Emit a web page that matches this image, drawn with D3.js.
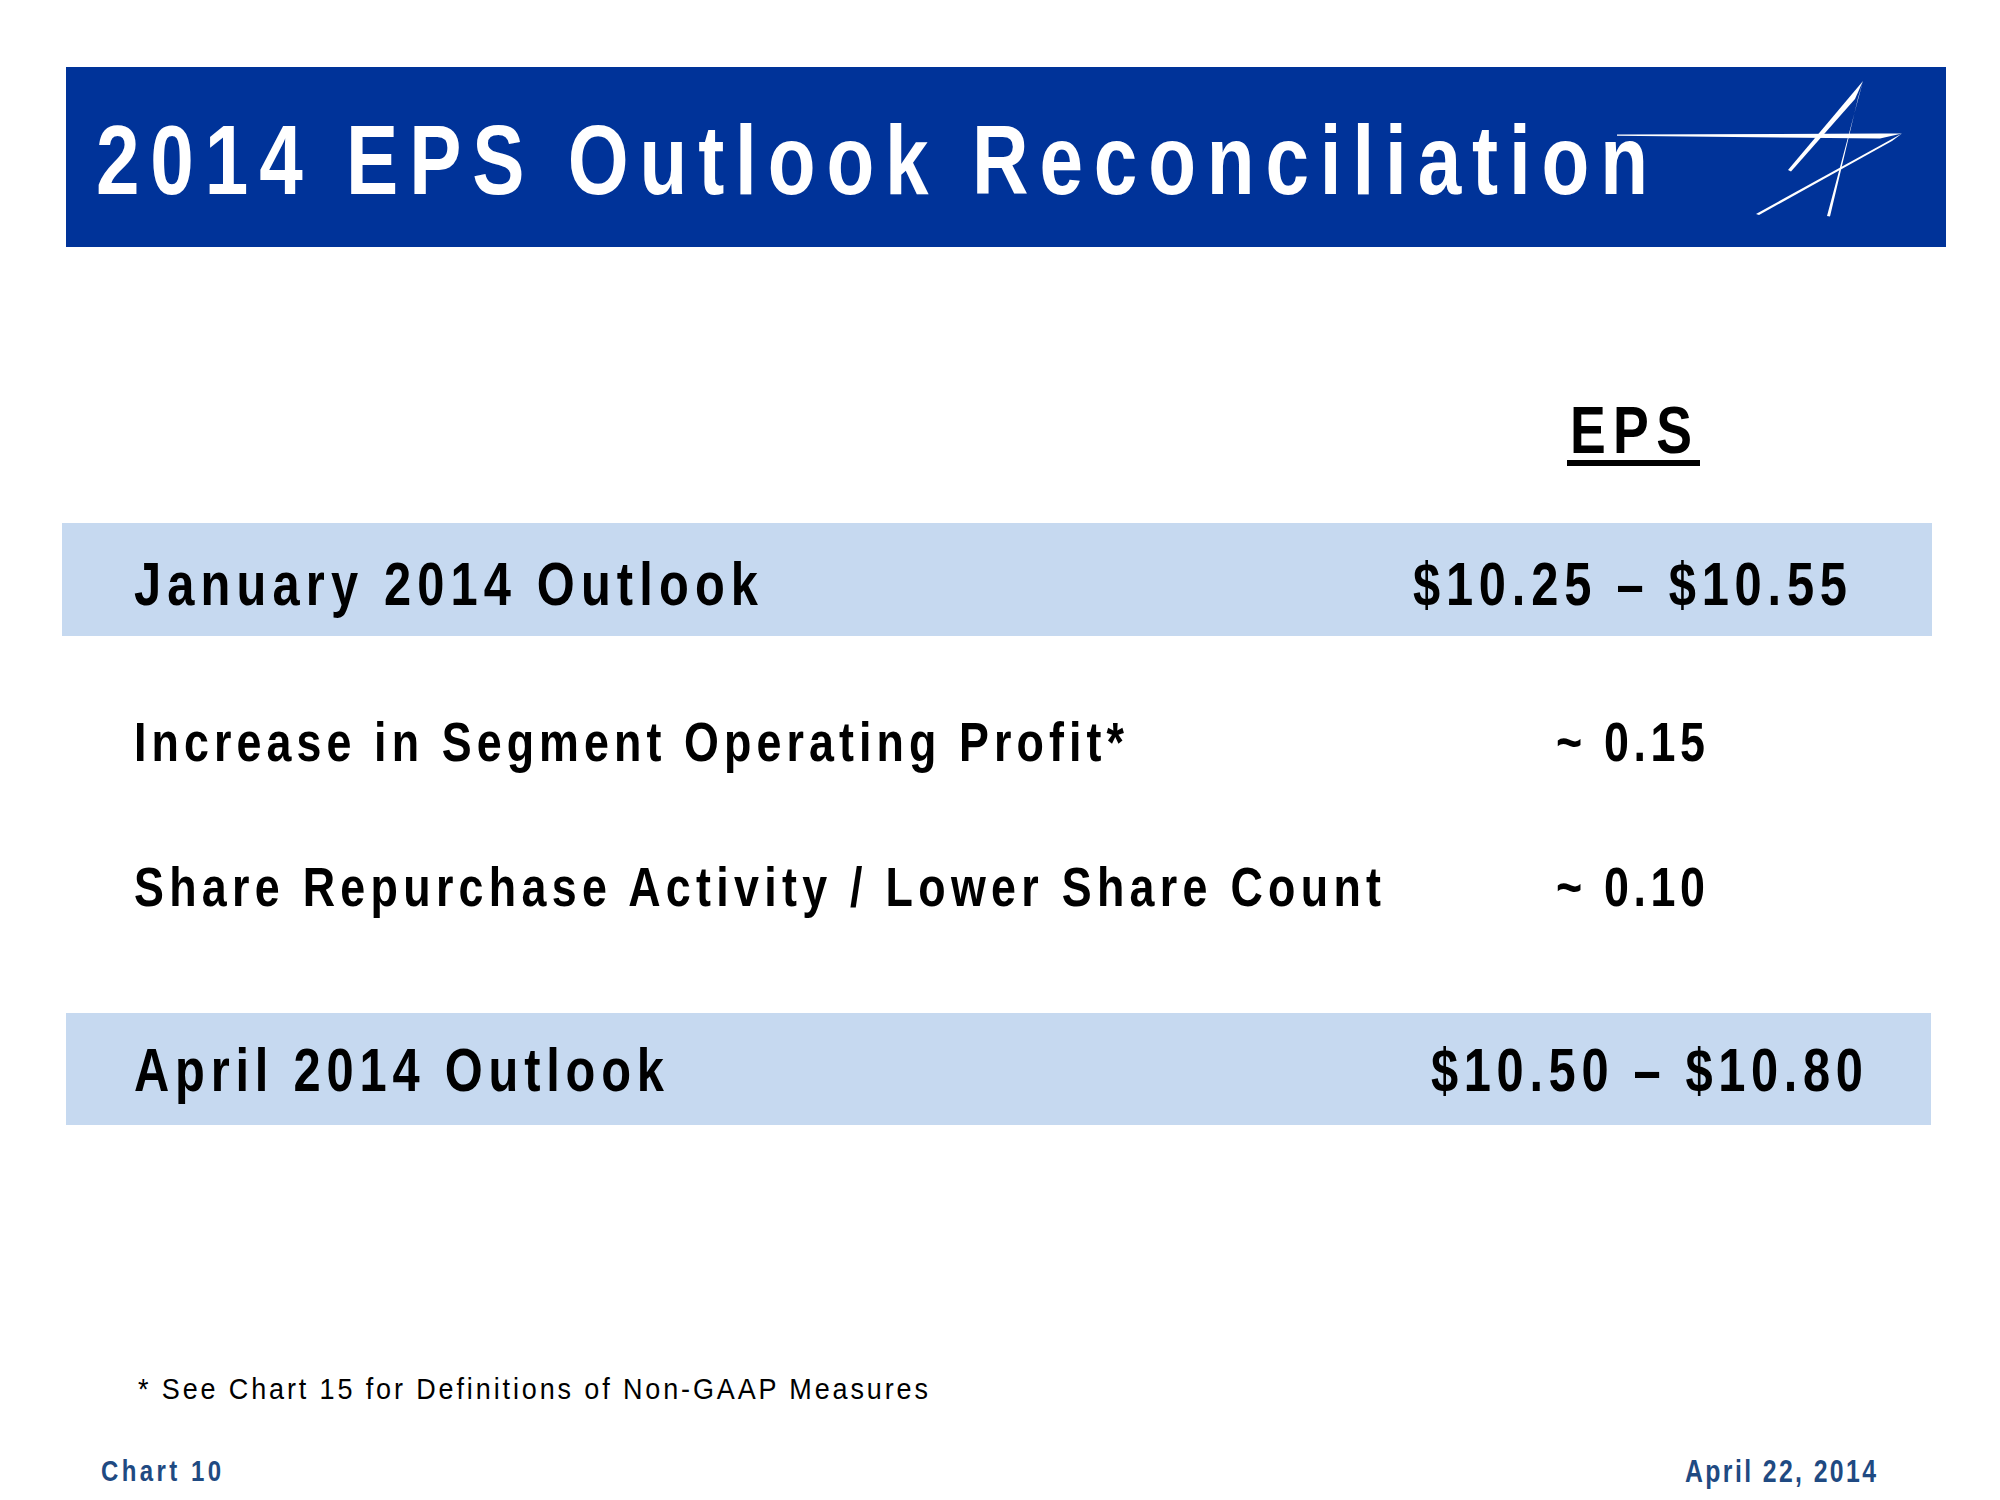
<!DOCTYPE html>
<html>
<head>
<meta charset="utf-8">
<script src="https://cdn.jsdelivr.net/npm/d3@7"></script>
<style>
  html, body { margin: 0; padding: 0; background: #ffffff; }
  svg { display: block; }
</style>
</head>
<body>
<script>
// ---- data ----
const title = "2014 EPS Outlook Reconciliation";
const columnHeader = "EPS";
const rowLabels = [
  "January 2014 Outlook",
  "Increase in Segment Operating Profit*",
  "Share Repurchase Activity / Lower Share Count",
  "April 2014 Outlook"
];
const rowValues = ["$10.25 \u2013 $10.55", "~ 0.15", "~ 0.10", "$10.50 \u2013 $10.80"];
const rowHighlighted = [true, false, false, true];
const footnote = "* See Chart 15 for Definitions of Non-GAAP Measures";
const footerLeft = "Chart 10";
const footerRight = "April 22, 2014";

// ---- layout (not data) ----
const W = 2000, H = 1500;
const FONT = "'Liberation Sans', Arial, sans-serif";
const rowBaselines = [605, 761, 906, 1091];
const labelWidths = [624, 990, 1247, 530];
const valueX = [1413, 1556, 1556, 1431];
const valueWidths = [434, 149, 149, 432];
const bandRects = [{x: 62, y: 523, w: 1870, h: 113}, null, null, {x: 66, y: 1013, w: 1865, h: 112}];

const svg = d3.select("body").append("svg")
  .attr("width", W).attr("height", H)
  .attr("viewBox", `0 0 ${W} ${H}`);

svg.append("rect").attr("width", W).attr("height", H).attr("fill", "#ffffff");

function narrowText(parent, str, x, y, w, size, weight, fill, sx) {
  sx = sx || 0.8;
  const g = parent.append("g").attr("transform", `translate(${x},${y}) scale(${sx},1)`);
  g.append("text")
    .attr("x", 0).attr("y", 0)
    .attr("font-family", FONT).attr("font-weight", weight)
    .attr("font-size", size).attr("fill", fill)
    .attr("textLength", w / sx).attr("lengthAdjust", "spacing")
    .text(str);
  return g;
}

// header band
svg.append("rect").attr("x", 66).attr("y", 67).attr("width", 1880).attr("height", 180)
  .attr("fill", "#003399");

narrowText(svg, title, 96, 194, 1552, 99, "bold", "#ffffff", 0.79);

// logo (star strokes, tapered)
const logo = svg.append("g").attr("fill", "#ffffff");
const strokes = [
  [[1617, 134.5], [1880, 133.5], [1902, 133.5], [1880, 138.5], [1617, 135.8]],
  [[1902, 133.5], [1756, 214], [1759, 215], [1892, 141]],
  [[1863, 81], [1827, 216], [1830, 216.5], [1858, 98]],
  [[1863, 81], [1788, 170], [1791, 171.5], [1855, 99]]
];
logo.selectAll("path").data(strokes).join("path")
  .attr("d", d => d3.line()(d) + "Z");

// column header
narrowText(svg, columnHeader, 1570, 453, 122, 67, "bold", "#000000");
svg.append("rect").attr("x", 1567).attr("y", 460).attr("width", 133).attr("height", 6)
  .attr("fill", "#000000");

// rows
const rows = svg.append("g");
const rowData = rowLabels.map((label, i) => ({
  label, value: rowValues[i], hi: rowHighlighted[i], i
}));

rows.selectAll("rect.band").data(rowData.filter(d => d.hi)).join("rect")
  .attr("class", "band")
  .attr("x", d => bandRects[d.i].x).attr("y", d => bandRects[d.i].y)
  .attr("width", d => bandRects[d.i].w).attr("height", d => bandRects[d.i].h)
  .attr("fill", "#c6d9f0");

rowData.forEach(d => {
  const size = d.hi ? 61 : 56;
  narrowText(rows, d.label, 134, rowBaselines[d.i], labelWidths[d.i], size, "bold", "#000000");
  narrowText(rows, d.value, valueX[d.i], rowBaselines[d.i], valueWidths[d.i], size, "bold", "#000000");
});

// footnote
narrowText(svg, footnote, 138, 1399, 790, 30, "normal", "#000000", 0.9);

// footer
narrowText(svg, footerLeft, 101, 1481, 120, 30, "bold", "#1f4a82");
narrowText(svg, footerRight, 1685, 1482, 191, 31, "bold", "#1f4a82");
</script>
</body>
</html>
